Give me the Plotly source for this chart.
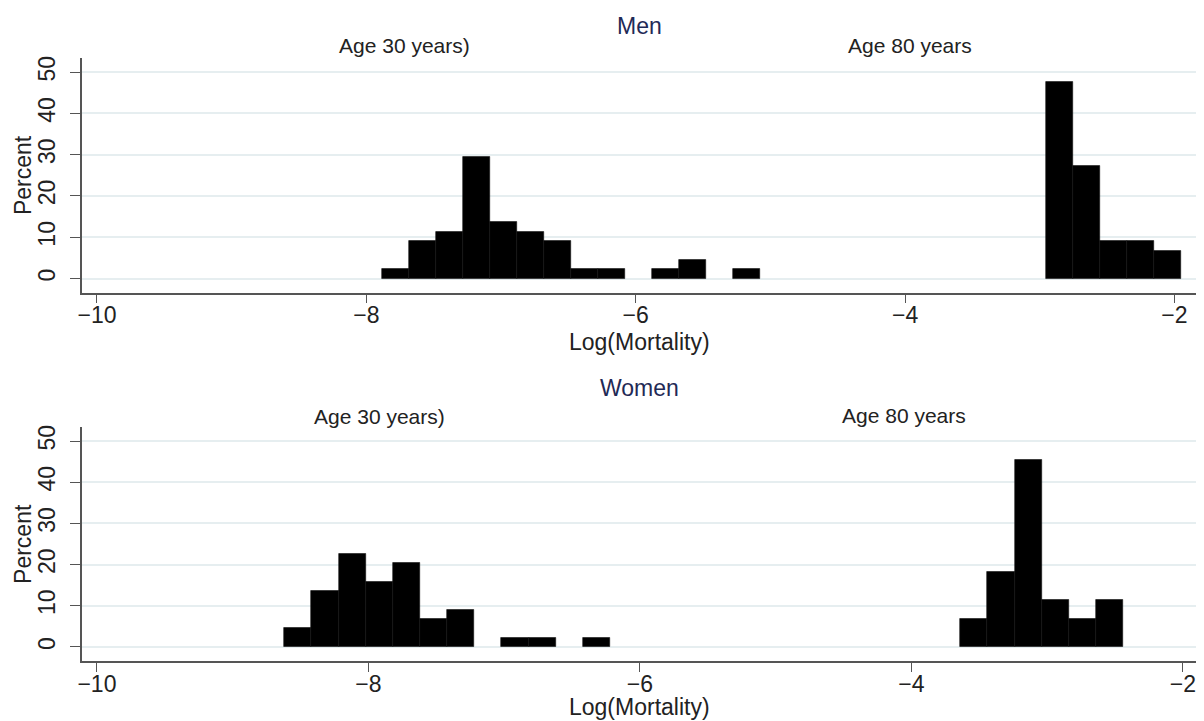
import numpy as np
import plotly.graph_objects as go

# the page body has an 8px margin, so the figure is placed at (8, 8)
OFF = 8
W, H = 1204 - OFF, 721 - OFF
BIN_W = 0.2

# Men (percent of 44 countries per 0.2-wide bin; left edges)
men30_left = [-7.88, -7.68, -7.48, -7.28, -7.08, -6.88, -6.68, -6.48, -6.28, -5.88, -5.68, -5.28]
men30_pct = [2.27, 9.09, 11.36, 29.55, 13.64, 11.36, 9.09, 2.27, 2.27, 2.27, 4.55, 2.27]
men80_left = [-2.95, -2.75, -2.55, -2.35, -2.15]
men80_pct = [47.73, 27.27, 9.09, 9.09, 6.82]

# Women
wom30_left = [-8.62, -8.42, -8.22, -8.02, -7.82, -7.62, -7.42, -7.02, -6.82, -6.42]
wom30_pct = [4.55, 13.64, 22.73, 15.91, 20.45, 6.82, 9.09, 2.27, 2.27, 2.27]
wom80_left = [-3.64, -3.44, -3.24, -3.04, -2.84, -2.64]
wom80_pct = [6.82, 18.18, 45.45, 11.36, 6.82, 11.36]

y_ticks = [0, 10, 20, 30, 40, 50]
x_ticks = [-10, -8, -6, -4, -2]

FONT = "Liberation Sans, Arial, sans-serif"
TXT = "#222222"
NAVY = "#1f2a56"
GRID = "#e6eef0"
AXC = "#555555"

def px_x(p):
    return (p - OFF) / W

def px_y(p):
    return 1 - (p - OFF) / H

fig = go.Figure()

def add_hist(left, pct, xa, ya):
    left = np.asarray(left, dtype=float)
    fig.add_trace(go.Bar(
        x=left + BIN_W / 2, y=pct, width=BIN_W,
        marker=dict(color="black", line=dict(color="#111111", width=0.6)),
        xaxis=xa, yaxis=ya, showlegend=False, hoverinfo="x+y",
    ))

add_hist(men30_left, men30_pct, "x", "y")
add_hist(men80_left, men80_pct, "x", "y")
add_hist(wom30_left, wom30_pct, "x2", "y2")
add_hist(wom80_left, wom80_pct, "x2", "y2")

xdom = [px_x(77.3), min(1.0, px_x(1198))]
common_x = dict(
    tickvals=x_ticks, ticks="outside", ticklen=9, tickwidth=1.2, tickcolor=AXC,
    showline=True, linecolor=AXC, linewidth=1.5, showgrid=False, zeroline=False,
    tickfont=dict(family=FONT, size=23, color=TXT), domain=xdom,
    ticklabelstandoff=-8,
)
common_y = dict(
    tickvals=y_ticks, ticks="outside", ticklen=10, tickwidth=1.2, tickcolor=AXC,
    showline=True, linecolor=AXC, linewidth=1.5, showgrid=True, gridcolor=GRID,
    gridwidth=1.5, zeroline=False, tickangle=-90,
    tickfont=dict(family=FONT, size=23, color=TXT),
    ticklabelstandoff=6,
)

fig.update_layout(
    width=W, height=H,
    margin=dict(l=0, r=0, t=0, b=0),
    paper_bgcolor="white", plot_bgcolor="white",
    bargap=0, barmode="overlay",
    showlegend=False,
    xaxis=dict(common_x, range=[-10.111, -1.825], anchor="y"),
    yaxis=dict(common_y, range=[-3.38, 53.45], anchor="x",
               domain=[px_y(291.3), px_y(56)]),
    xaxis2=dict(common_x, range=[-10.110, -1.888], anchor="y2"),
    yaxis2=dict(common_y, range=[-3.46, 53.46], anchor="x2",
                domain=[px_y(661), px_y(426)]),
)

def ann(text, x, y, size=23, color=TXT, angle=0):
    fig.add_annotation(
        text=text, x=px_x(x), y=px_y(y), xref="paper", yref="paper",
        showarrow=False, xanchor="center", yanchor="middle", textangle=angle,
        font=dict(family=FONT, size=size, color=color),
    )

# top panel texts
ann("Men", 637.6, 24, color=NAVY)
ann("Age 30 years)", 401.5, 44, size=21)
ann("Age 80 years", 908.5, 44, size=21)
ann("Log(Mortality)", 637.6, 341)
ann("Percent", 18, 173.6, angle=-90)

# bottom panel texts
ann("Women", 637.6, 387.5, color=NAVY)
ann("Age 30 years)", 375.7, 415.5, size=21)
ann("Age 80 years", 903, 415, size=21)
ann("Log(Mortality)", 637.6, 707)
ann("Percent", 18, 543.5, angle=-90)

fig.write_html("out.html")
